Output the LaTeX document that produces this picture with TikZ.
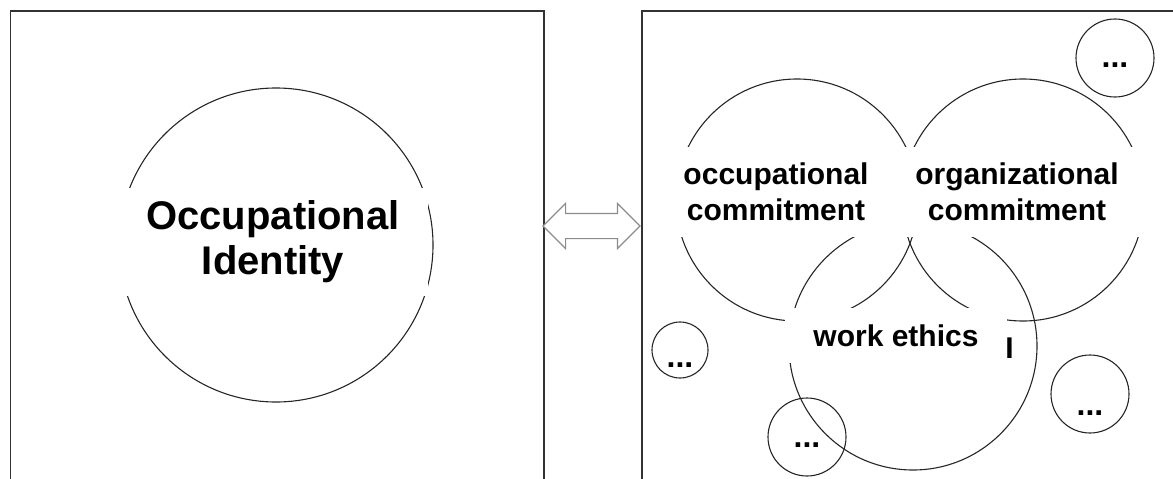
\documentclass[tikz,border=0pt]{standalone}
\usepackage{fontspec}
\setmainfont{Liberation Sans}
\usetikzlibrary{shapes.arrows}

\begin{document}
\begin{tikzpicture}[x=1pt,y=-1pt,
    panel/.style={draw=black!80, line width=1.6pt, minimum width=#1, minimum height=700, anchor=north west, inner sep=0},
    ring/.style={circle, draw=black!85, line width=1.1pt, minimum size=#1, inner sep=0},
    tag/.style={fill=white, inner sep=0, align=center, font=\bfseries\fontsize{30}{36}\selectfont},
    dots/.style={font=\bfseries\fontsize{32}{32}\selectfont, inner sep=0, anchor=base}]
    % page
    \useasboundingbox (0,0) rectangle (1173,479);
    \clip (0,0) rectangle (1173,479);

    % Left panel
    \node[panel=533.5] (idpanel) at (9.5,10) {};
    \node[ring=314] (idring) at (276,245) {};
    \node[tag, font=\bfseries\fontsize{40}{45}\selectfont, minimum width=310, minimum height=108] (idtag) at (273,242) {Occupational\\Identity};

    % Link between panels
    \node[double arrow, draw=black!45, fill=white, line width=1.1pt, minimum height=97, inner sep=12, double arrow head extend=10] (link) at (591.5,226) {};

    % Right panel
    \node[panel=700] (cpanel) at (641,10) {};
    \node[ring=242] (occ) at (797,200) {};
    \node[ring=242] (org) at (1023,200) {};
    \node[ring=248] (eth) at (913,346) {};

    % Further circles
    \node[ring=78] (more1) at (1115,58) {};
    \node[dots] (more1dots) at (1115,67) {...};
    \node[ring=56] (more2) at (680,350) {};
    \node[dots] (more2dots) at (680,367) {...};
    \node[ring=78] (more3) at (807,437) {};
    \node[dots] (more3dots) at (807,447) {...};
    \node[ring=78] (more4) at (1090,394) {};
    \node[dots] (more4dots) at (1090,415) {...};

    % Labels
    \node[tag, minimum width=230, minimum height=90] (occtag) at (776,192) {occupational\\commitment};
    \node[tag, minimum width=260, minimum height=90] (orgtag) at (1017,192) {organizational\\commitment};
    \node[tag, minimum width=222, minimum height=55] (ethtag) at (896,335.5) {work ethics};
    \node[font=\bfseries\fontsize{30}{36}\selectfont, inner sep=0, anchor=base] (caret) at (1009.5,358) {I};
\end{tikzpicture}
\end{document}
